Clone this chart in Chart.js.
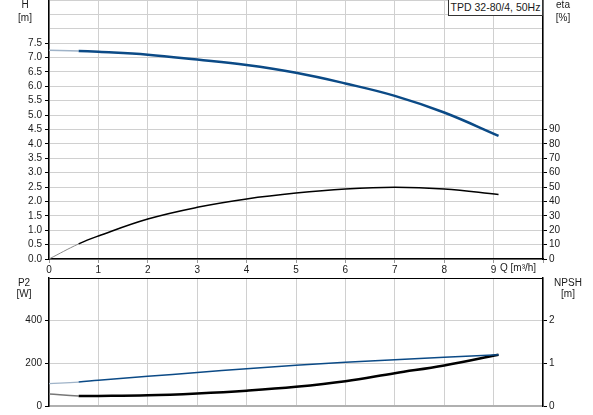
<!DOCTYPE html>
<html>
<head>
<meta charset="utf-8">
<script src="https://cdn.jsdelivr.net/npm/chart.js@4.4.1/dist/chart.umd.min.js"></script>
<style>
    html, body { margin: 0; padding: 0; background: #fff; }
    #wrap { position: relative; width: 593px; height: 415px; overflow: hidden;
            font-family: "Liberation Sans", Arial, sans-serif; color: #1a1a1a; }
    canvas { position: absolute; left: 0; }
    #topChart { top: 0; }
    #bottomChart { top: 270px; }
    .lbl { position: absolute; font-size: 10px; line-height: 1; white-space: nowrap;
           transform: translate(-50%, -50%); }
    .qlbl { position: absolute; left: 500px; top: 268px; font-size: 10px; line-height: 1;
            transform: translateY(-50%); white-space: nowrap; }
    .legend-box { position: absolute; left: 448px; top: 0; width: 93px; height: 15px;
                  border: 1px solid #333; border-top: none; background: #fff;
                  font-size: 10.5px; line-height: 15px; text-align: center; white-space: nowrap; }
</style>
</head>
<body>
<div id="wrap">
    <canvas id="topChart" width="593" height="280"></canvas>
    <canvas id="bottomChart" width="593" height="145"></canvas>

    <div class="lbl" style="left:25px; top:5px;">H</div>
    <div class="lbl" style="left:25px; top:18px;">[m]</div>
    <div class="lbl" style="left:563px; top:5px;">eta</div>
    <div class="lbl" style="left:563px; top:18px;">[%]</div>
    <div class="qlbl">Q [m³/h]</div>
    <div class="legend-box">TPD 32-80/4, 50Hz</div>

    <div class="lbl" style="left:24px; top:283px;">P2</div>
    <div class="lbl" style="left:24px; top:294px;">[W]</div>
    <div class="lbl" style="left:568px; top:283px;">NPSH</div>
    <div class="lbl" style="left:568px; top:294px;">[m]</div>
</div>

<script>
// --- Curve data ---
const qPoints    = [0, 0.6, 1, 2, 3, 4, 5, 6, 7, 8, 9.1];
const headValues = [7.25, 7.23, 7.20, 7.10, 6.93, 6.74, 6.47, 6.10, 5.67, 5.09, 4.28];
const etaValues  = [0, 10.5, 16, 27.8, 35.9, 41.7, 45.8, 48.6, 49.8, 48.6, 44.9];
const p2Values   = [105, 112, 121, 139, 157, 175, 191, 205, 217, 228, 240];
const npshValues = [0.28, 0.235, 0.235, 0.25, 0.295, 0.36, 0.45, 0.58, 0.77, 0.95, 1.2];

// --- Tick labels ---
const qTickLabels    = [0, 1, 2, 3, 4, 5, 6, 7, 8, 9];
const headTickLabels = ['0.0', '0.5', '1.0', '1.5', '2.0', '2.5', '3.0', '3.5', '4.0', '4.5', '5.0', '5.5', '6.0', '6.5', '7.0', '7.5'];
const etaTickLabels  = [0, 10, 20, 30, 40, 50, 60, 70, 80, 90];
const p2TickLabels   = [0, 200, 400];
const npshTickLabels = [0, 1, 2];

const GRID = '#d0d0d0';
const BLUE = '#0b4a86';
const NONE = 'rgba(0,0,0,0)';

Chart.defaults.font.family = '"Liberation Sans", Arial, sans-serif';
Chart.defaults.font.size = 10;
Chart.defaults.color = '#1a1a1a';

const toXY = (vals) => qPoints.map((q, i) => ({ x: q, y: vals[i] }));

// first short stretch of each curve is drawn faded, like the original
const fadedStart = (color, width) => ({
    borderColor: c => c.p0DataIndex === 0 ? color : undefined,
    borderWidth: c => c.p0DataIndex === 0 ? width : undefined
});

// pin vertical axis width and drop the half-label padding at the top
const pinY = (w) => s => { s.width = w; s.paddingTop = 0; };

const lineDefaults = { pointRadius: 0, tension: 0.4, fill: false };

// --- Upper chart: H and eta ---
new Chart(document.getElementById('topChart'), {
    type: 'line',
    data: {
        datasets: [
            { ...lineDefaults, data: toXY(etaValues), yAxisID: 'yEta',
              borderColor: '#000', borderWidth: 1.5, segment: fadedStart('#888', 1) },
            { ...lineDefaults, data: toXY(headValues), yAxisID: 'y',
              borderColor: BLUE, borderWidth: 2.5, segment: fadedStart('#9fb3c8', 1.5) }
        ]
    },
    options: {
        responsive: false, animation: false,
        layout: { padding: 0 },
        plugins: { legend: { display: false }, tooltip: { enabled: false } },
        scales: {
            x: {
                type: 'linear', min: 0, max: 10, position: 'bottom',
                ticks: { stepSize: 1, maxRotation: 0, padding: 1, autoSkip: false,
                         callback: v => qTickLabels.includes(v) ? String(v) : '' },
                grid: { color: GRID, tickLength: 4, tickColor: '#999' },
                border: { color: '#000', width: 1.5 },
                afterFit: s => { s.height = 21; }
            },
            y: {
                position: 'left', min: 0, max: 9,
                ticks: { stepSize: 0.5, padding: 3, autoSkip: false,
                         callback: v => v <= 7.5 ? headTickLabels[Math.round(v * 2)] : '' },
                grid: { color: GRID, tickLength: 4,
                        tickColor: c => c.tick && c.tick.value > 7.5 ? NONE : '#000' },
                border: { color: '#000', width: 1.5 },
                afterFit: pinY(49)
            },
            yEta: {
                position: 'right', min: 0, max: 180,
                ticks: { stepSize: 10, padding: 2, autoSkip: false, callback: v => String(v) },
                afterBuildTicks: s => { s.ticks = s.ticks.filter(t => etaTickLabels.includes(t.value)); },
                grid: { drawOnChartArea: false, tickLength: 4, tickColor: '#000' },
                border: { color: '#000', width: 1.5 },
                afterFit: pinY(50)
            }
        }
    }
});

// --- Lower chart: P2 and NPSH ---
new Chart(document.getElementById('bottomChart'), {
    type: 'line',
    data: {
        datasets: [
            { ...lineDefaults, data: toXY(p2Values), yAxisID: 'y',
              borderColor: BLUE, borderWidth: 1.5, segment: fadedStart('#9fb3c8', 1.2) },
            { ...lineDefaults, data: toXY(npshValues), yAxisID: 'yNpsh',
              borderColor: '#000', borderWidth: 2.5, segment: fadedStart('#777', 1.5) }
        ]
    },
    options: {
        responsive: false, animation: false,
        layout: { padding: { top: 8 } },
        plugins: { legend: { display: false }, tooltip: { enabled: false } },
        scales: {
            x: {
                type: 'linear', min: 0, max: 10, position: 'bottom',
                ticks: { stepSize: 1, display: false },
                grid: { color: GRID, drawTicks: false },
                border: { color: '#b0b0b0', width: 2 },
                afterFit: s => { s.height = 8; }
            },
            y: {
                position: 'left', min: 0, max: 600,
                ticks: { stepSize: 200, padding: 3, autoSkip: false,
                         callback: v => p2TickLabels.includes(v) ? String(v) : '' },
                grid: { tickLength: 4,
                        color: c => c.tick && c.tick.value === 600 ? '#000' : GRID,
                        tickColor: c => c.tick && c.tick.value === 600 ? NONE : '#000' },
                border: { color: '#000', width: 1.5 },
                afterFit: pinY(49)
            },
            yNpsh: {
                position: 'right', min: 0, max: 3,
                ticks: { stepSize: 1, padding: 2, callback: v => String(v) },
                afterBuildTicks: s => { s.ticks = s.ticks.filter(t => npshTickLabels.includes(t.value)); },
                grid: { drawOnChartArea: false, tickLength: 4, tickColor: '#000' },
                border: { color: '#000', width: 1.5 },
                afterFit: pinY(50)
            }
        }
    }
});
</script>
</body>
</html>
